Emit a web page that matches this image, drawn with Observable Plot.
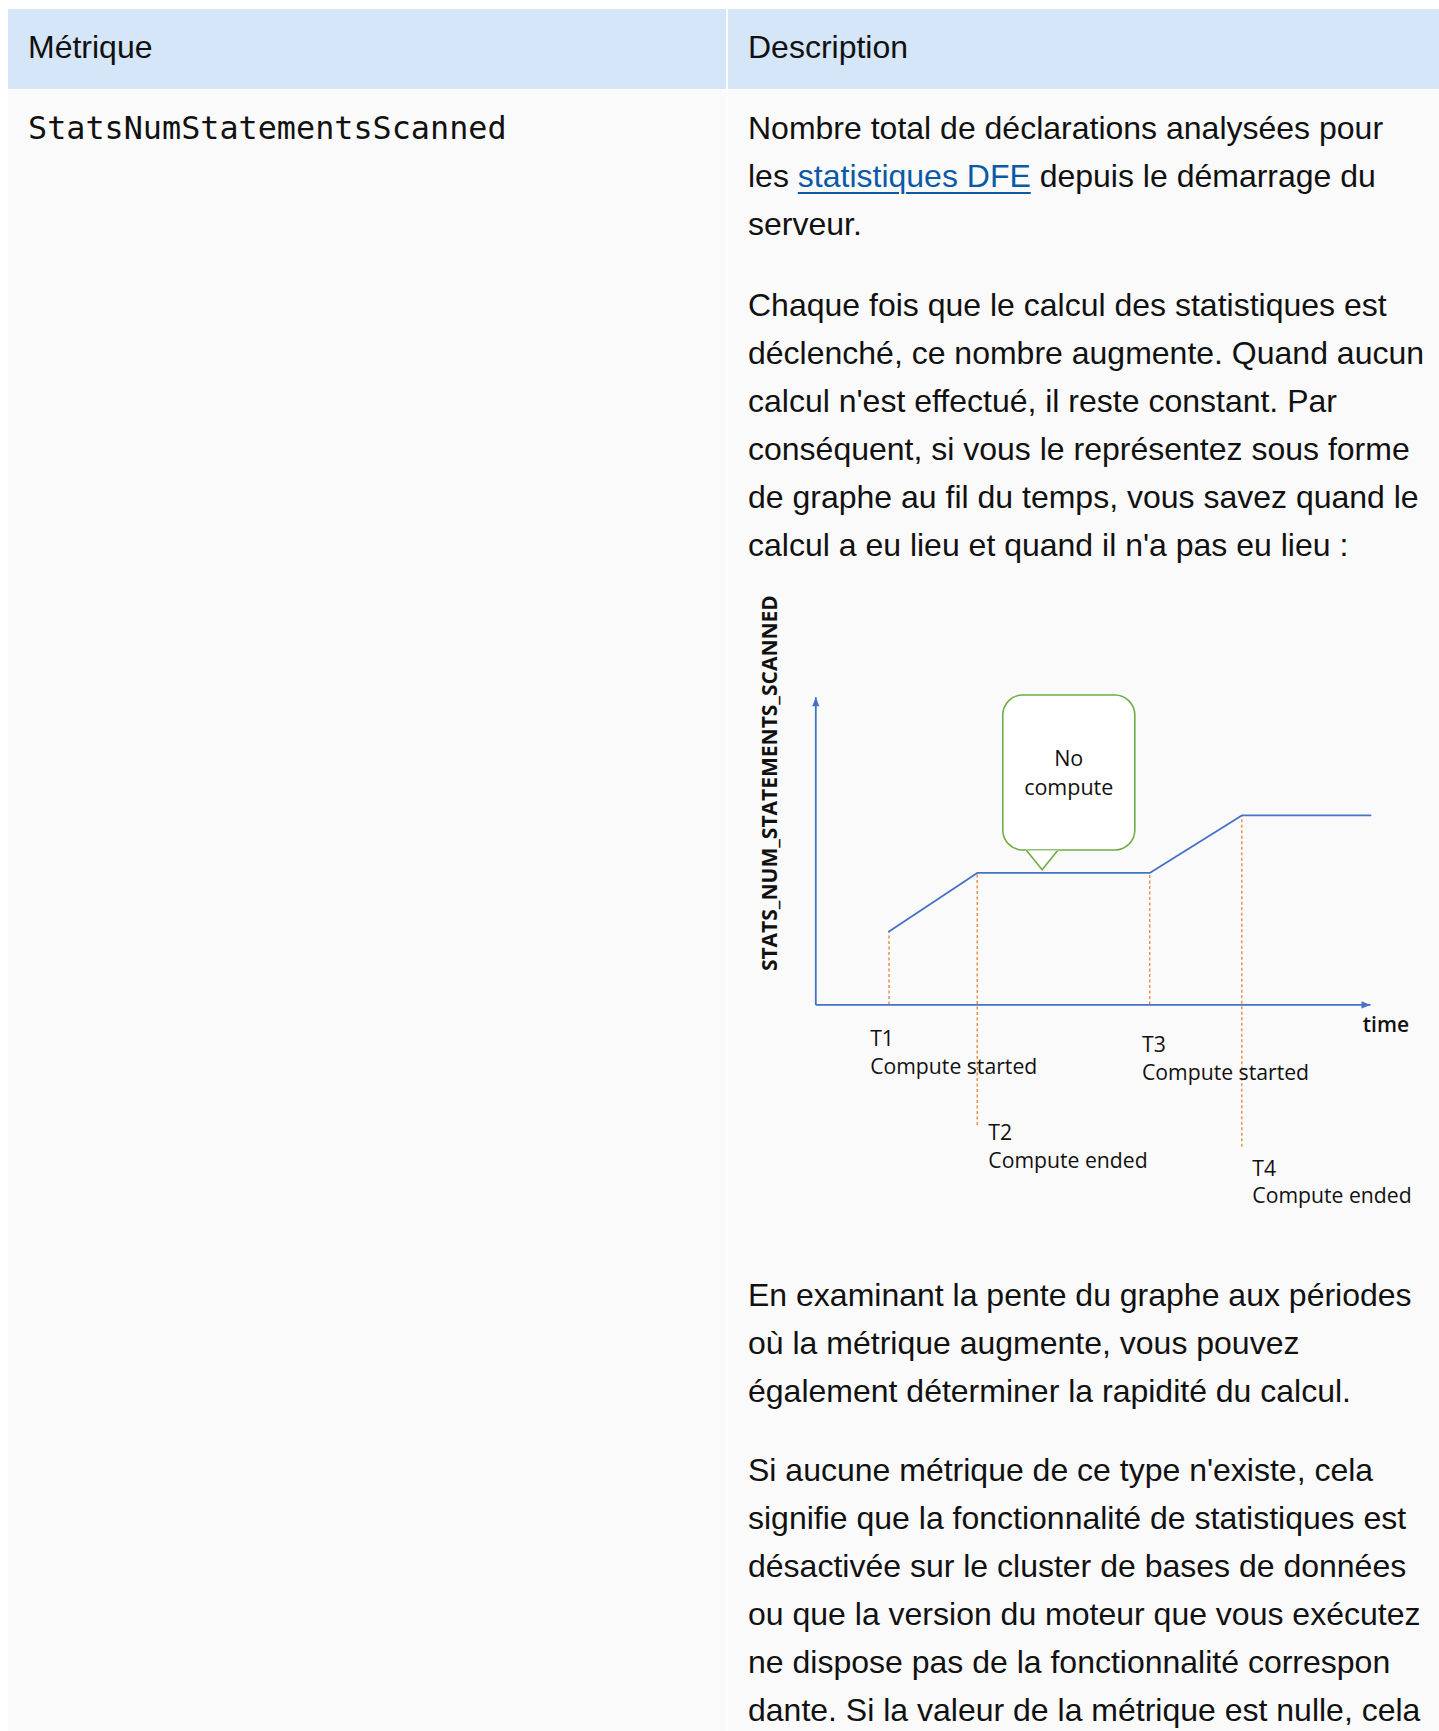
<!DOCTYPE html>
<html lang="fr">
<head>
<meta charset="utf-8">
<script src="https://cdn.jsdelivr.net/npm/d3@7"></script>
<script src="https://cdn.jsdelivr.net/npm/@observablehq/plot@0.6"></script>
<style>
  html, body { margin: 0; padding: 0; background: #ffffff; overflow: hidden; }
  body { width: 1439px; height: 1731px; position: relative; }
  #page { position: absolute; left: 8px; top: 9px; width: 1431px; }
  .row { display: flex; }
  .gap { width: 2px; background: #ffffff; flex: none; }
  .hcell { height: 80px; box-sizing: border-box; background: #d4e6f7; padding: 14px 20px 0 20px;
           font-family: "Liberation Sans", Arial, sans-serif; font-size: 32px; line-height: 48px; color: #111; }
  .bcell { background: #fafafa; box-sizing: border-box; padding: 14px 0 0 20px; height: 1650px;
           font-family: "Liberation Sans", Arial, sans-serif; font-size: 32px; line-height: 48px; color: #111; }
  .left { width: 718px; flex: none; }
  .right { width: 711px; flex: none; }
  .mono { font-family: "DejaVu Sans Mono", monospace; font-size: 31.8px; }
  .p { white-space: nowrap; margin: 0 0 31px 0; }
  .p a { color: #0b5aa6; text-decoration: underline; text-decoration-thickness: 2px; text-underline-offset: 5px; }
  #figure { height: 702px; width: 680px; }
  #figure svg { display: block; max-width: none; }
</style>
</head>
<body>
<div id="page">
  <div class="row">
    <div class="hcell left">Métrique</div>
    <div class="gap"></div>
    <div class="hcell right">Description</div>
  </div>
  <div style="height:1px;background:#fff"></div>
  <div class="row">
    <div class="bcell left"><span class="mono">StatsNumStatementsScanned</span></div>
    <div class="gap"></div>
    <div class="bcell right">
      <div class="p" style="margin-bottom:33px">Nombre total de déclarations analysées pour<br>les <a href="#">statistiques DFE</a> depuis le démarrage du<br>serveur.</div>
      <div class="p" style="margin-bottom:0">Chaque fois que le calcul des statistiques est<br>déclenché, ce nombre augmente. Quand aucun<br>calcul n'est effectué, il reste constant. Par<br>conséquent, si vous le représentez sous forme<br>de graphe au fil du temps, vous savez quand le<br>calcul a eu lieu et quand il n'a pas eu lieu :</div>
      <div id="figure"></div>
      <div class="p">En examinant la pente du graphe aux périodes<br>où la métrique augmente, vous pouvez<br>également déterminer la rapidité du calcul.</div>
      <div class="p">Si aucune métrique de ce type n'existe, cela<br>signifie que la fonctionnalité de statistiques est<br>désactivée sur le cluster de bases de données<br>ou que la version du moteur que vous exécutez<br>ne dispose pas de la fonctionnalité correspon<br>dante. Si la valeur de la métrique est nulle, cela</div>
    </div>
  </div>
</div>
<script>
// ---- Data (arbitrary units, axes 0..100) ----
const stepNames   = ["T1", "T2", "T3", "T4"];
const stepEvents  = ["Compute started", "Compute ended", "Compute started", "Compute ended"];
const stepTime    = [13.2, 29.1, 60.2, 76.8];
const stepValue   = [23.9, 42.9, 42.9, 61.6];
const guideBottom = [0, -39.2, 0, -46.3];
const labelTime   = [9.8, 31.1, 58.8, 78.7];
const labelLevel  = [-6.9, -37.5, -9.0, -49.1];

const seriesTime  = [13.2, 29.1, 60.2, 76.8, 100];
const seriesValue = [23.9, 42.9, 42.9, 61.6, 61.6];

const axisMax = 100;
const yAxisTitle = "STATS_NUM_STATEMENTS_SCANNED";
const xAxisTitle = "time";
const xTitlePos = [98.6, -3.8];
const yTitlePos = [-8.2, 72.1];

const calloutText = "No\ncompute";
const calloutBox = [33.8, 57.6, 50.2, 100.6];      // x1, x2, y1, y2
const pointerTime = [38.0, 40.8, 43.6];
const pointerLevel = [50.2, 43.9, 50.2];
const calloutTextPos = [45.6, 84.5];

// ---- Build tables for the marks ----
const steps = stepNames.map((n, i) => ({
  name: n, event: stepEvents[i], t: stepTime[i], v: stepValue[i], bottom: guideBottom[i],
  lx: labelTime[i], ly: labelLevel[i], label: n + "\n" + stepEvents[i]
}));
const series = seriesTime.map((t, i) => ({t, v: seriesValue[i]}));
const axes = [
  {x1: 0, y1: 0, x2: 0, y2: axisMax},
  {x1: 0, y1: 0, x2: axisMax, y2: 0}
];
const pointer = pointerTime.map((t, i) => ({t, v: pointerLevel[i]}));
const callout = [{x1: calloutBox[0], x2: calloutBox[1], y1: calloutBox[2], y2: calloutBox[3]}];

const blue = "#4472c4";
const orange = "#e8823a";
const green = "#70ad47";

const arrowUp = {draw(ctx) { ctx.moveTo(0, 0); ctx.lineTo(-3.6, 9); ctx.lineTo(3.6, 9); ctx.closePath(); }};
const arrowRight = {draw(ctx) { ctx.moveTo(0, 0); ctx.lineTo(-9, -3.6); ctx.lineTo(-9, 3.6); ctx.closePath(); }};

const chart = Plot.plot({
  width: 680,
  height: 702,
  marginLeft: 67.3,
  marginRight: 58,
  marginTop: 127.8,
  marginBottom: 266.6,
  x: {domain: [0, axisMax], axis: null},
  y: {domain: [0, axisMax], axis: null},
  style: {background: "transparent", fontFamily: "'Open Sans', sans-serif", color: "#111", overflow: "visible"},
  marks: [
    Plot.ruleX(steps, {x: "t", y1: "bottom", y2: "v", stroke: orange, strokeWidth: 1.3, strokeDasharray: "3,2.5"}),
    Plot.link(axes, {x1: "x1", y1: "y1", x2: "x2", y2: "y2", stroke: blue, strokeWidth: 1.8}),
    Plot.dot([{x: 0, y: axisMax}], {x: "x", y: "y", symbol: arrowUp, r: 4, fill: blue, stroke: "none"}),
    Plot.dot([{x: axisMax, y: 0}], {x: "x", y: "y", symbol: arrowRight, r: 4, fill: blue, stroke: "none"}),
    Plot.line(series, {x: "t", y: "v", stroke: blue, strokeWidth: 1.8}),
    Plot.rect(callout, {x1: "x1", x2: "x2", y1: "y1", y2: "y2", rx: 20, fill: "white", stroke: green, strokeWidth: 1.6}),
    Plot.line(pointer, {x: "t", y: "v", fill: "white", stroke: "white", strokeWidth: 2}),
    Plot.line(pointer, {x: "t", y: "v", stroke: green, strokeWidth: 1.6}),
    Plot.text([calloutText], {x: calloutTextPos[0], y: calloutTextPos[1], text: d => d, textAnchor: "middle",
      lineAnchor: "top", lineHeight: 1.35, fontSize: 21.5, fill: "#111"}),
    Plot.text(steps, {x: "lx", y: "ly", text: "label", textAnchor: "start", lineAnchor: "top",
      lineHeight: 1.31, fontSize: 21.2, fill: "#111"}),
    Plot.text([xAxisTitle], {x: xTitlePos[0], y: xTitlePos[1], text: d => d, textAnchor: "start",
      lineAnchor: "top", fontSize: 21, fontWeight: 600, fill: "#111"}),
    Plot.text([yAxisTitle], {x: yTitlePos[0], y: yTitlePos[1], text: d => d, rotate: -90,
      textAnchor: "middle", lineAnchor: "middle", fontSize: 21, fontWeight: 700, fill: "#111"})
  ]
});
document.getElementById("figure").appendChild(chart);
</script>
</body>
</html>
